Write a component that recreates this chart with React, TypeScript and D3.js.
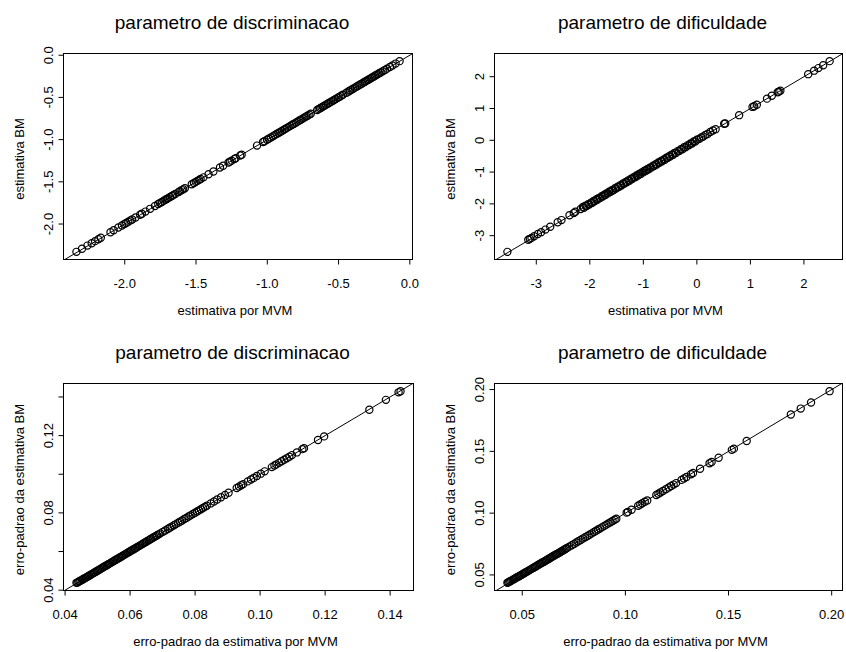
import React from 'react';
import * as d3 from 'd3';

// parametro de discriminacao: estimativa por MVM (x) vs estimativa BM (y)
const discMVM = [
  -2.339, -2.300, -2.262, -2.232, -2.208, -2.185, -2.168, -2.100, -2.078, -2.045,
  -2.020, -2.002, -1.990, -1.975, -1.960, -1.948, -1.925, -1.892, -1.880, -1.855,
  -1.822, -1.788, -1.765, -1.752, -1.740, -1.728, -1.715, -1.705, -1.695, -1.682,
  -1.670, -1.660, -1.646, -1.622, -1.612, -1.600, -1.590, -1.578, -1.530, -1.515,
  -1.502, -1.490, -1.478, -1.468, -1.448, -1.412, -1.378, -1.332, -1.310, -1.272,
  -1.262, -1.250, -1.232, -1.222, -1.190, -1.180, -1.072, -1.030, -1.020, -1.002,
  -0.990, -0.975, -0.960, -0.948, -0.935, -0.922, -0.910, -0.898, -0.885, -0.875,
  -0.862, -0.850, -0.838, -0.825, -0.815, -0.800, -0.788, -0.775, -0.765, -0.752,
  -0.740, -0.728, -0.718, -0.705, -0.695, -0.650, -0.640, -0.630, -0.620, -0.610,
  -0.600, -0.588, -0.575, -0.565, -0.552, -0.540, -0.530, -0.520, -0.505, -0.495,
  -0.482, -0.470, -0.445, -0.430, -0.420, -0.410, -0.398, -0.385, -0.372, -0.360,
  -0.348, -0.338, -0.325, -0.315, -0.305, -0.295, -0.285, -0.275, -0.265, -0.255,
  -0.245, -0.235, -0.225, -0.215, -0.205, -0.190, -0.175, -0.160, -0.140, -0.122,
  -0.100, -0.072,
];
const discBM = [
  -2.330, -2.293, -2.256, -2.228, -2.203, -2.181, -2.163, -2.097, -2.074, -2.042,
  -2.017, -1.999, -1.987, -1.972, -1.957, -1.946, -1.922, -1.890, -1.878, -1.853,
  -1.820, -1.786, -1.763, -1.750, -1.738, -1.726, -1.713, -1.703, -1.693, -1.680,
  -1.668, -1.658, -1.644, -1.620, -1.610, -1.598, -1.589, -1.577, -1.529, -1.514,
  -1.501, -1.489, -1.477, -1.467, -1.447, -1.411, -1.377, -1.331, -1.309, -1.271,
  -1.261, -1.249, -1.231, -1.221, -1.189, -1.179, -1.071, -1.029, -1.019, -1.001,
  -0.989, -0.974, -0.959, -0.947, -0.934, -0.921, -0.909, -0.897, -0.884, -0.874,
  -0.861, -0.849, -0.837, -0.824, -0.814, -0.799, -0.787, -0.774, -0.764, -0.751,
  -0.739, -0.727, -0.717, -0.704, -0.694, -0.649, -0.639, -0.629, -0.619, -0.609,
  -0.599, -0.587, -0.574, -0.564, -0.551, -0.539, -0.529, -0.519, -0.504, -0.494,
  -0.481, -0.469, -0.444, -0.429, -0.419, -0.409, -0.397, -0.384, -0.371, -0.359,
  -0.347, -0.337, -0.324, -0.314, -0.304, -0.294, -0.284, -0.274, -0.264, -0.254,
  -0.244, -0.234, -0.224, -0.214, -0.204, -0.189, -0.174, -0.159, -0.139, -0.121,
  -0.099, -0.070,
];

// parametro de dificuldade
const difMVM = [
  -3.54, -3.15, -3.12, -3.09, -3.04, -2.97, -2.91, -2.83, -2.74, -2.60,
  -2.53, -2.38, -2.30, -2.27, -2.17, -2.13, -2.11, -2.08, -2.06, -2.03,
  -2.01, -1.98, -1.96, -1.93, -1.91, -1.88, -1.86, -1.84, -1.81, -1.78,
  -1.76, -1.73, -1.71, -1.69, -1.66, -1.64, -1.61, -1.59, -1.56, -1.53,
  -1.51, -1.48, -1.46, -1.43, -1.41, -1.38, -1.36, -1.33, -1.31, -1.28,
  -1.26, -1.23, -1.21, -1.18, -1.15, -1.13, -1.10, -1.08, -1.05, -1.03,
  -1.00, -0.98, -0.95, -0.93, -0.90, -0.88, -0.85, -0.82, -0.80, -0.77,
  -0.75, -0.72, -0.70, -0.67, -0.65, -0.62, -0.60, -0.57, -0.55, -0.52,
  -0.50, -0.47, -0.45, -0.42, -0.39, -0.36, -0.33, -0.30, -0.27, -0.24,
  -0.21, -0.18, -0.15, -0.12, -0.09, -0.06, -0.03, 0.00, 0.04, 0.08,
  0.12, 0.16, 0.20, 0.25, 0.30, 0.35, 0.51, 0.53, 0.79, 1.04,
  1.07, 1.12, 1.31, 1.40, 1.51, 1.53, 1.56, 2.08, 2.19, 2.27,
  2.36, 2.48,
];
const difBM = [
  -3.51, -3.13, -3.10, -3.07, -3.02, -2.95, -2.89, -2.81, -2.72, -2.58,
  -2.51, -2.36, -2.29, -2.25, -2.16, -2.10, -2.12, -2.06, -2.07, -2.01,
  -2.02, -1.96, -1.97, -1.91, -1.92, -1.86, -1.87, -1.82, -1.82, -1.76,
  -1.77, -1.71, -1.72, -1.67, -1.67, -1.62, -1.62, -1.57, -1.57, -1.51,
  -1.52, -1.46, -1.47, -1.41, -1.42, -1.36, -1.37, -1.31, -1.32, -1.26,
  -1.27, -1.21, -1.22, -1.16, -1.16, -1.11, -1.11, -1.06, -1.06, -1.01,
  -1.01, -0.96, -0.96, -0.91, -0.91, -0.86, -0.86, -0.80, -0.81, -0.75,
  -0.76, -0.70, -0.71, -0.65, -0.66, -0.60, -0.61, -0.55, -0.56, -0.50,
  -0.51, -0.45, -0.46, -0.40, -0.40, -0.34, -0.34, -0.28, -0.28, -0.22,
  -0.22, -0.16, -0.16, -0.10, -0.10, -0.04, -0.04, 0.02, 0.04, 0.09,
  0.12, 0.17, 0.20, 0.26, 0.31, 0.35, 0.52, 0.53, 0.79, 1.05,
  1.07, 1.12, 1.31, 1.40, 1.51, 1.53, 1.56, 2.08, 2.19, 2.27,
  2.36, 2.49,
];

// erro-padrao, discriminacao
const seDiscMVM = [
  0.0435, 0.0438, 0.0441, 0.0444, 0.0447, 0.0451, 0.0454, 0.0457, 0.0461, 0.0464,
  0.0468, 0.0471, 0.0475, 0.0479, 0.0482, 0.0486, 0.0490, 0.0493, 0.0497, 0.0501,
  0.0505, 0.0508, 0.0512, 0.0516, 0.0520, 0.0524, 0.0528, 0.0532, 0.0535, 0.0539,
  0.0543, 0.0547, 0.0551, 0.0555, 0.0559, 0.0563, 0.0567, 0.0571, 0.0575, 0.0579,
  0.0583, 0.0587, 0.0591, 0.0595, 0.0599, 0.0603, 0.0607, 0.0611, 0.0615, 0.0619,
  0.0623, 0.0627, 0.0631, 0.0636, 0.0640, 0.0644, 0.0648, 0.0652, 0.0657, 0.0661,
  0.0665, 0.0670, 0.0674, 0.0679, 0.0683, 0.0688, 0.0693, 0.0701, 0.0708, 0.0716,
  0.0722, 0.0728, 0.0735, 0.0741, 0.0748, 0.0754, 0.0760, 0.0767, 0.0773, 0.0780,
  0.0786, 0.0793, 0.0800, 0.0806, 0.0812, 0.0818, 0.0824, 0.0830, 0.0836, 0.0848,
  0.0858, 0.0868, 0.0880, 0.0892, 0.0903, 0.0928, 0.0935, 0.0942, 0.0948, 0.0962,
  0.0972, 0.0980, 0.0990, 0.1002, 0.1014, 0.1036, 0.1044, 0.1050, 0.1058, 0.1066,
  0.1074, 0.1082, 0.1090, 0.1098, 0.1113, 0.1130, 0.1135, 0.1178, 0.1197, 0.1336,
  0.1387, 0.1426, 0.1432,
];
const seDiscBM = [
  0.0438, 0.0440, 0.0443, 0.0446, 0.0449, 0.0452, 0.0455, 0.0459, 0.0462, 0.0465,
  0.0469, 0.0472, 0.0476, 0.0480, 0.0483, 0.0487, 0.0491, 0.0494, 0.0498, 0.0502,
  0.0506, 0.0509, 0.0513, 0.0517, 0.0521, 0.0525, 0.0529, 0.0533, 0.0536, 0.0540,
  0.0544, 0.0548, 0.0552, 0.0556, 0.0560, 0.0564, 0.0568, 0.0572, 0.0576, 0.0580,
  0.0584, 0.0588, 0.0592, 0.0596, 0.0600, 0.0604, 0.0608, 0.0612, 0.0616, 0.0620,
  0.0624, 0.0628, 0.0632, 0.0637, 0.0641, 0.0645, 0.0649, 0.0653, 0.0658, 0.0662,
  0.0666, 0.0671, 0.0675, 0.0680, 0.0684, 0.0689, 0.0694, 0.0702, 0.0709, 0.0717,
  0.0723, 0.0729, 0.0736, 0.0742, 0.0749, 0.0755, 0.0761, 0.0768, 0.0774, 0.0781,
  0.0787, 0.0794, 0.0801, 0.0807, 0.0813, 0.0819, 0.0825, 0.0831, 0.0837, 0.0849,
  0.0859, 0.0869, 0.0881, 0.0893, 0.0904, 0.0929, 0.0936, 0.0943, 0.0949, 0.0963,
  0.0973, 0.0981, 0.0991, 0.1003, 0.1015, 0.1037, 0.1045, 0.1051, 0.1059, 0.1067,
  0.1075, 0.1083, 0.1091, 0.1099, 0.1113, 0.1130, 0.1135, 0.1177, 0.1196, 0.1334,
  0.1385, 0.1424, 0.1430,
];

// erro-padrao, dificuldade
const seDifMVM = [
  0.0428, 0.0432, 0.0437, 0.0442, 0.0447, 0.0453, 0.0459, 0.0465, 0.0471, 0.0477,
  0.0483, 0.0489, 0.0495, 0.0501, 0.0507, 0.0513, 0.0519, 0.0525, 0.0531, 0.0537,
  0.0543, 0.0549, 0.0555, 0.0561, 0.0567, 0.0573, 0.0579, 0.0585, 0.0591, 0.0597,
  0.0603, 0.0609, 0.0615, 0.0621, 0.0627, 0.0633, 0.0639, 0.0645, 0.0651, 0.0657,
  0.0663, 0.0669, 0.0675, 0.0681, 0.0687, 0.0693, 0.0699, 0.0705, 0.0711, 0.0717,
  0.0728, 0.0740, 0.0751, 0.0762, 0.0772, 0.0783, 0.0794, 0.0805, 0.0816, 0.0826,
  0.0837, 0.0848, 0.0858, 0.0868, 0.0878, 0.0888, 0.0898, 0.0908, 0.0918, 0.0928,
  0.0938, 0.0948, 0.0956, 0.1006, 0.1012, 0.1030, 0.1062, 0.1072, 0.1082, 0.1094,
  0.1106, 0.1150, 0.1160, 0.1170, 0.1182, 0.1196, 0.1210, 0.1222, 0.1234, 0.1246,
  0.1272, 0.1284, 0.1296, 0.1318, 0.1328, 0.1362, 0.1408, 0.1418, 0.1452, 0.1516,
  0.1526, 0.1588, 0.1802, 0.1850, 0.1900, 0.1990,
];
const seDifBM = [
  0.0436, 0.0440, 0.0445, 0.0449, 0.0454, 0.0460, 0.0465, 0.0471, 0.0477, 0.0483,
  0.0488, 0.0494, 0.0500, 0.0506, 0.0512, 0.0517, 0.0523, 0.0529, 0.0535, 0.0541,
  0.0547, 0.0553, 0.0558, 0.0564, 0.0570, 0.0576, 0.0582, 0.0588, 0.0594, 0.0600,
  0.0605, 0.0611, 0.0617, 0.0623, 0.0629, 0.0635, 0.0641, 0.0647, 0.0653, 0.0659,
  0.0665, 0.0670, 0.0676, 0.0682, 0.0688, 0.0694, 0.0700, 0.0706, 0.0712, 0.0718,
  0.0729, 0.0740, 0.0751, 0.0762, 0.0772, 0.0783, 0.0794, 0.0805, 0.0815, 0.0825,
  0.0836, 0.0847, 0.0857, 0.0867, 0.0877, 0.0887, 0.0897, 0.0907, 0.0917, 0.0927,
  0.0937, 0.0946, 0.0954, 0.1004, 0.1010, 0.1028, 0.1060, 0.1070, 0.1080, 0.1092,
  0.1103, 0.1147, 0.1157, 0.1167, 0.1179, 0.1193, 0.1207, 0.1219, 0.1231, 0.1243,
  0.1269, 0.1281, 0.1293, 0.1315, 0.1325, 0.1359, 0.1404, 0.1414, 0.1448, 0.1512,
  0.1522, 0.1584, 0.1798, 0.1846, 0.1895, 0.1987,
];

// ticks
const discTicks = [-2.0, -1.5, -1.0, -0.5, 0.0];
const discTickLabels = ['-2.0', '-1.5', '-1.0', '-0.5', '0.0'];
const difTicks = [-3, -2, -1, 0, 1, 2];
const difTickLabels = ['-3', '-2', '-1', '0', '1', '2'];
const seDiscTicks = [0.04, 0.06, 0.08, 0.10, 0.12, 0.14];
const seDiscXLabels = ['0.04', '0.06', '0.08', '0.10', '0.12', '0.14'];
const seDiscYLabels = ['0.04', '', '0.08', '', '0.12', ''];
const seDifTicks = [0.05, 0.10, 0.15, 0.20];
const seDifTickLabels = ['0.05', '0.10', '0.15', '0.20'];

const titles = ['parametro de discriminacao', 'parametro de dificuldade'];
const xTitles = ['estimativa por MVM', 'erro-padrao da estimativa por MVM'];
const yTitles = ['estimativa BM', 'erro-padrao da estimativa BM'];

const FONT = '"Liberation Sans", Arial, Helvetica, sans-serif';

type Box = { left: number; right: number; top: number; bottom: number };

// R-style axis range: data range stretched 4% on each side
const rRange = (v: number[]) => {
  const [a, b] = d3.extent(v) as [number, number];
  const s = b - a;
  return [a - 0.04 * s, b + 0.04 * s];
};

function Panel(props: {
  id: string;
  box: Box;
  xs: number[];
  ys: number[];
  title: string;
  xTitle: string;
  yTitle: string;
  xTicks: number[];
  xLabels: string[];
  yTicks: number[];
  yLabels: string[];
}) {
  const { id, box, xs, ys, title, xTitle, yTitle, xTicks, xLabels, yTicks, yLabels } = props;
  const x = d3.scaleLinear().domain(rRange(xs)).range([box.left, box.right]);
  const y = d3.scaleLinear().domain(rRange(ys)).range([box.bottom, box.top]);
  const pts = d3.zip(xs, ys);
  const lo = Math.min(x.domain()[0], y.domain()[0]);
  const hi = Math.max(x.domain()[1], y.domain()[1]);
  const cx = (box.left + box.right) / 2;
  const cy = (box.top + box.bottom) / 2;

  return (
    <g>
      <defs>
        <clipPath id={id}>
          <rect x={box.left} y={box.top} width={box.right - box.left} height={box.bottom - box.top} />
        </clipPath>
      </defs>
      <g clipPath={`url(#${id})`}>
        <line x1={x(lo)} y1={y(lo)} x2={x(hi)} y2={y(hi)} stroke="#000" strokeWidth={1} />
        {pts.map((d, i) => (
          <circle key={i} cx={x(d[0])} cy={y(d[1])} r={3.6} fill="none" stroke="#000" strokeWidth={1.2} />
        ))}
      </g>
      <rect x={box.left} y={box.top} width={box.right - box.left} height={box.bottom - box.top}
        fill="none" stroke="#000" strokeWidth={1} />
      {xTicks.map((t, i) => (
        <g key={'x' + i}>
          <line x1={x(t)} x2={x(t)} y1={box.bottom} y2={box.bottom + 5} stroke="#000" />
          <text x={x(t)} y={box.bottom + 28} textAnchor="middle" fontSize={13}>{xLabels[i]}</text>
        </g>
      ))}
      {yTicks.map((t, i) => (
        <g key={'y' + i}>
          <line x1={box.left - 5} x2={box.left} y1={y(t)} y2={y(t)} stroke="#000" />
          <text transform={`translate(${box.left - 11},${y(t)}) rotate(-90)`} textAnchor="middle" fontSize={13}>
            {yLabels[i]}
          </text>
        </g>
      ))}
      <text x={cx - 6} y={box.top - 25} textAnchor="middle" fontSize={19}>{title}</text>
      <text x={cx - 3} y={box.bottom + 55.5} textAnchor="middle" fontSize={13}>{xTitle}</text>
      <text transform={`translate(${box.left - 40},${cy + 2.5}) rotate(-90)`} textAnchor="middle" fontSize={13}>
        {yTitle}
      </text>
    </g>
  );
}

export default function App() {
  return (
    <svg width={846} height={652} style={{ position: 'absolute', left: 0, top: 0, background: '#fff' }}
      fontFamily={FONT}>
      <rect width={846} height={652} fill="#fff" />
      <Panel id="c1" box={{ left: 63.5, right: 412.5, top: 53.5, bottom: 259.5 }}
        xs={discMVM} ys={discBM} title={titles[0]} xTitle={xTitles[0]} yTitle={yTitles[0]}
        xTicks={discTicks} xLabels={discTickLabels} yTicks={discTicks} yLabels={discTickLabels} />
      <Panel id="c2" box={{ left: 494.5, right: 842.5, top: 53.5, bottom: 259.5 }}
        xs={difMVM} ys={difBM} title={titles[1]} xTitle={xTitles[0]} yTitle={yTitles[0]}
        xTicks={difTicks} xLabels={difTickLabels} yTicks={difTicks} yLabels={difTickLabels} />
      <Panel id="c3" box={{ left: 63.5, right: 413.5, top: 383.5, bottom: 590.5 }}
        xs={seDiscMVM} ys={seDiscBM} title={titles[0]} xTitle={xTitles[1]} yTitle={yTitles[1]}
        xTicks={seDiscTicks} xLabels={seDiscXLabels} yTicks={seDiscTicks} yLabels={seDiscYLabels} />
      <Panel id="c4" box={{ left: 494.5, right: 842.5, top: 383.5, bottom: 590.5 }}
        xs={seDifMVM} ys={seDifBM} title={titles[1]} xTitle={xTitles[1]} yTitle={yTitles[1]}
        xTicks={seDifTicks} xLabels={seDifTickLabels} yTicks={seDifTicks} yLabels={seDifTickLabels} />
    </svg>
  );
}
